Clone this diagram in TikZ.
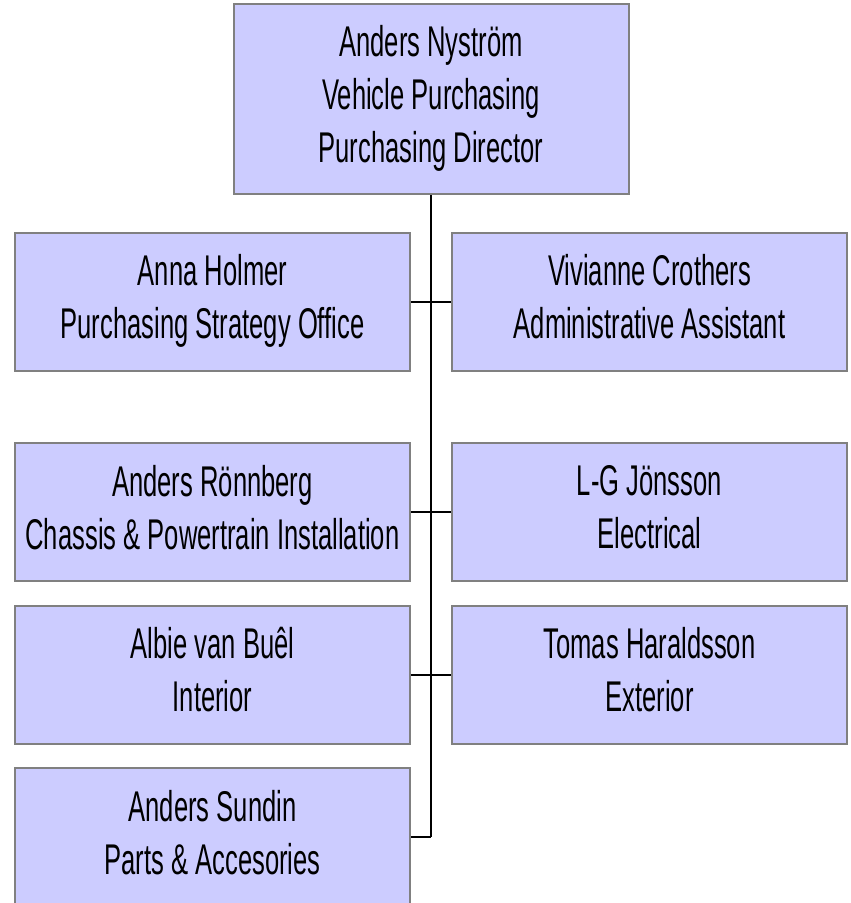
\documentclass[tikz,border=0pt]{standalone}
\usepackage{fontspec}
\usepackage{tikz}
\newfontfamily\orgfont{Liberation Sans}[FakeStretch=0.595]

\begin{document}
\begin{tikzpicture}[x=1pt,y=-1pt,
	orgbox/.style={shape=rectangle,draw=gray,fill=orgfill,line width=2pt,inner sep=0pt,
		minimum width=395pt,minimum height=138pt,align=center,
		font=\orgfont\fontsize{43}{53}\selectfont,
		execute at begin node=\rule{0pt}{45pt},execute at end node=\rule[-10pt]{0pt}{10pt}},
	link/.style={-,line width=2pt,draw=black}]
	
	\definecolor{orgfill}{HTML}{CCCCFF}
	\useasboundingbox (0,0) rectangle (851,903);
	\clip (0,0) rectangle (851,903);
	
	\node[orgbox,minimum height=190pt] (director) at (431, 99)  {Anders Nyström\\Vehicle Purchasing\\Purchasing Director};
	
	\node[orgbox] (holmer)     at (212.5, 301.5) {Anna Holmer\\Purchasing Strategy Office};
	\node[orgbox] (crothers)   at (649.5, 301.5) {Vivianne Crothers\\Administrative Assistant};
	\node[orgbox] (ronnberg)   at (212.5, 512)   {Anders Rönnberg\\Chassis \& Powertrain Installation};
	\node[orgbox] (jonsson)    at (649.5, 512)   {L-G Jönsson\\Electrical};
	\node[orgbox] (buel)       at (212.5, 674.5) {Albie van Buêl\\Interior};
	\node[orgbox] (haraldsson) at (649.5, 674.5) {Tomas Haraldsson\\Exterior};
	\node[orgbox] (sundin)     at (212.5, 837)   {Anders Sundin\\Parts \& Accesories};
	
	\coordinate (trunkend) at (431, 837);
	
	\draw[link] (director.south) -- (trunkend);
	\draw[link] (holmer) -- (crothers);
	\draw[link] (ronnberg) -- (jonsson);
	\draw[link] (buel) -- (haraldsson);
	\draw[link] (sundin) -- (trunkend);
	
\end{tikzpicture}
\end{document}
